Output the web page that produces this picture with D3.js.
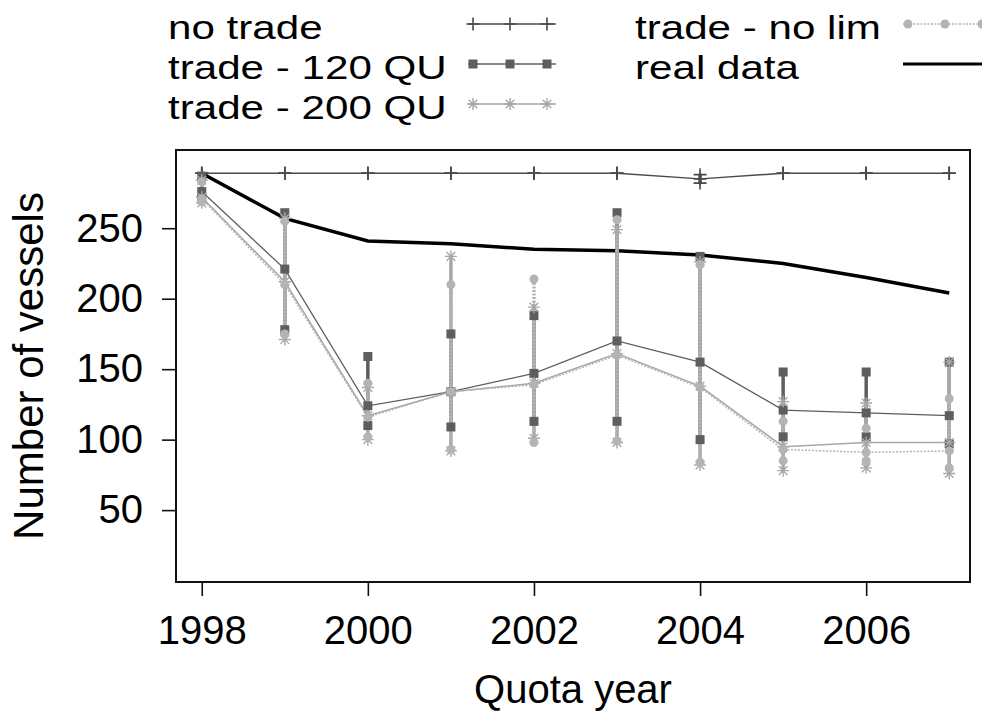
<!DOCTYPE html>
<html>
<head>
<meta charset="utf-8">
<script src="https://cdn.jsdelivr.net/npm/d3@7"></script>
<style>
  body { margin: 0; background: #fff; }
  text { font-family: "Liberation Sans", Arial, sans-serif; fill: #000; }
</style>
</head>
<body>
<div id="chart"></div>
<script>
var years = [1998, 1999, 2000, 2001, 2002, 2003, 2004, 2005, 2006, 2007];

var realData = [289, 257, 241, 239, 235, 234, 231, 225, 215, 204];

var noTradeMean = [289, 289, 289, 289, 289, 289, 285, 289, 289, 289];
var noTradeLow = [289, 289, 289, 289, 289, 289, 282, 289, 289, 289];
var noTradeHigh = [289, 289, 289, 289, 289, 289, 288, 289, 289, 289];

var qu120Mean = [276, 221, 124, 134, 147, 170, 155, 121, 119, 117];
var qu120Low = [271, 178, 110, 109, 113, 113, 100, 102, 102, 97];
var qu120High = [287, 261, 159, 175, 188, 261, 230, 148, 148, 155];

var qu200Mean = [272, 212, 117, 134, 140, 161, 138, 95, 98, 98];
var qu200Low = [268, 171, 100, 92, 101, 98, 82, 78, 80, 76];
var qu200High = [284, 257, 137, 230, 194, 249, 226, 127, 126, 155];

var noLimMean = [271, 210, 116, 134, 139, 160, 137, 93, 91, 92];
var noLimLow = [269, 175, 102, 93, 98, 99, 84, 85, 85, 80];
var noLimHigh = [283, 255, 140, 210, 214, 256, 224, 113, 108, 129];

var yTicks = [50, 100, 150, 200, 250];
var xTicks = [1998, 2000, 2002, 2004, 2006];

function buildChart(id) {
  var width = 982;
  var height = 713;
  var margin = { top: 150, right: 12, bottom: 131, left: 176 };
  var innerWidth = width - margin.left - margin.right;
  var innerHeight = height - margin.top - margin.bottom;

  var svg = d3.select(id).append("svg").attr("width", width).attr("height", height);
  var g = svg.append("g").attr("transform", "translate(" + margin.left + "," + margin.top + ")");

  var x = d3.scaleLinear().domain([1997.69, 2007.25]).range([0, innerWidth]);
  var y = d3.scaleLinear().domain([-1, 305.5]).range([innerHeight, 0]);

  var series = [
    { name: "no trade", mean: noTradeMean, lo: noTradeLow, hi: noTradeHigh, color: "#4a4a4a", symbol: "plus", dash: null, lw: 1.4 },
    { name: "trade - 120 QU", mean: qu120Mean, lo: qu120Low, hi: qu120High, color: "#5e5e5e", symbol: "square", dash: null, lw: 1.3 },
    { name: "trade - 200 QU", mean: qu200Mean, lo: qu200Low, hi: qu200High, color: "#a8a8a8", symbol: "star", dash: null, lw: 1.5 },
    { name: "trade - no lim", mean: noLimMean, lo: noLimLow, hi: noLimHigh, color: "#b4b4b4", symbol: "circle", dash: "2,1.5", lw: 1.5 }
  ];

  // axes
  var yAxis = d3.axisLeft(y).tickValues(yTicks).tickSize(14).tickPadding(19);
  var yg = g.append("g").call(yAxis);
  var xAxis = d3.axisBottom(x).tickValues(xTicks).tickFormat(d3.format("d")).tickSize(14).tickPadding(20);
  var xg = g.append("g").attr("transform", "translate(0," + innerHeight + ")").call(xAxis);
  [yg, xg].forEach(function (a) {
    a.select(".domain").remove();
    a.selectAll(".tick line").attr("stroke", "#111").attr("stroke-width", 1.6);
    a.selectAll(".tick text").style("font-size", "40px").attr("fill", "#000");
  });

  var line = d3.line().x(function (d, i) { return x(years[i]); }).y(function (d) { return y(d); });
  g.append("path")
    .datum(realData)
    .attr("d", line)
    .attr("fill", "none")
    .attr("stroke", "#000")
    .attr("stroke-width", 3.5);

  // mean lines
  series.forEach(function (s) {
    g.append("path")
      .datum(s.mean)
      .attr("d", line)
      .attr("fill", "none")
      .attr("stroke", s.color)
      .attr("stroke-width", s.lw)
      .attr("stroke-dasharray", s.dash);
  });

  // ranges
  [series[1], series[2], series[3], series[0]].forEach(function (s) {
    g.selectAll(null)
      .data(years)
      .enter()
      .append("line")
      .attr("x1", function (d) { return x(d); })
      .attr("x2", function (d) { return x(d); })
      .attr("y1", function (d, i) { return y(s.lo[i]); })
      .attr("y2", function (d, i) { return y(s.hi[i]); })
      .attr("stroke", s.color)
      .attr("stroke-width", 3.5)
      .attr("stroke-dasharray", s.dash);
  });

  // markers
  series.forEach(function (s) {
    years.forEach(function (yr, i) {
      [s.lo[i], s.hi[i], s.mean[i]].forEach(function (v) {
        drawMarker(g, s.symbol, x(yr), y(v), s.color);
      });
    });
  });

  g.append("rect")
    .attr("width", innerWidth)
    .attr("height", innerHeight)
    .attr("fill", "none")
    .attr("stroke", "#111")
    .attr("stroke-width", 2);

  // axis titles
  g.append("text")
    .attr("x", innerWidth / 2)
    .attr("y", innerHeight + 121)
    .attr("text-anchor", "middle")
    .style("font-size", "40px")
    .text("Quota year");

  g.append("text")
    .attr("transform", "translate(-133," + innerHeight / 2 + ") rotate(-90)")
    .attr("text-anchor", "middle")
    .style("font-size", "42px")
    .text("Number of vessels");

  // legend
  var legendItems = [
    { s: series[0], col: 0, row: 0 },
    { s: series[1], col: 0, row: 1 },
    { s: series[2], col: 0, row: 2 },
    { s: series[3], col: 1, row: 0 },
    { s: { name: "real data", color: "#000", symbol: null, dash: null }, col: 1, row: 1 }
  ];
  var colText = [168, 635];
  var colSym = [468, 903];
  var legend = svg.append("g");
  legendItems.forEach(function (it) {
    var base = 39 + it.row * 40;
    legend.append("text")
      .attr("transform", "translate(" + colText[it.col] + "," + base + ") scale(1.24,1)")
      .style("font-size", "34px")
      .text(it.s.name);
    var sy = base - 15;
    var x0 = colSym[it.col];
    legend.append("line")
      .attr("x1", x0)
      .attr("x2", x0 + 88)
      .attr("y1", sy)
      .attr("y2", sy)
      .attr("stroke", it.s.color)
      .attr("stroke-width", it.s.symbol ? 1.6 : 3)
      .attr("stroke-dasharray", it.s.dash);
    if (it.s.symbol) {
      [5, 42, 79].forEach(function (o) {
        drawMarker(legend, it.s.symbol, x0 + o, sy, it.s.color);
      });
    }
  });

  function drawMarker(parent, type, cx, cy, color) {
    if (type === "square") {
      parent.append("rect")
        .attr("x", cx - 4.5)
        .attr("y", cy - 4.5)
        .attr("width", 9)
        .attr("height", 9)
        .attr("fill", color);
    } else if (type === "circle") {
      parent.append("circle").attr("cx", cx).attr("cy", cy).attr("r", 4.5).attr("fill", color);
    } else if (type === "plus") {
      var p = 6.5;
      parent.append("path")
        .attr("d", "M" + (cx - p) + "," + cy + "H" + (cx + p) + "M" + cx + "," + (cy - p) + "V" + (cy + p))
        .attr("stroke", color)
        .attr("stroke-width", 1.6);
    } else if (type === "star") {
      var r = 6, q = 4.3;
      parent.append("path")
        .attr("d",
          "M" + (cx - r) + "," + cy + "H" + (cx + r) +
          "M" + cx + "," + (cy - r) + "V" + (cy + r) +
          "M" + (cx - q) + "," + (cy - q) + "L" + (cx + q) + "," + (cy + q) +
          "M" + (cx - q) + "," + (cy + q) + "L" + (cx + q) + "," + (cy - q))
        .attr("stroke", color)
        .attr("stroke-width", 1.4);
    }
  }
}

buildChart("#chart");
</script>
</body>
</html>
